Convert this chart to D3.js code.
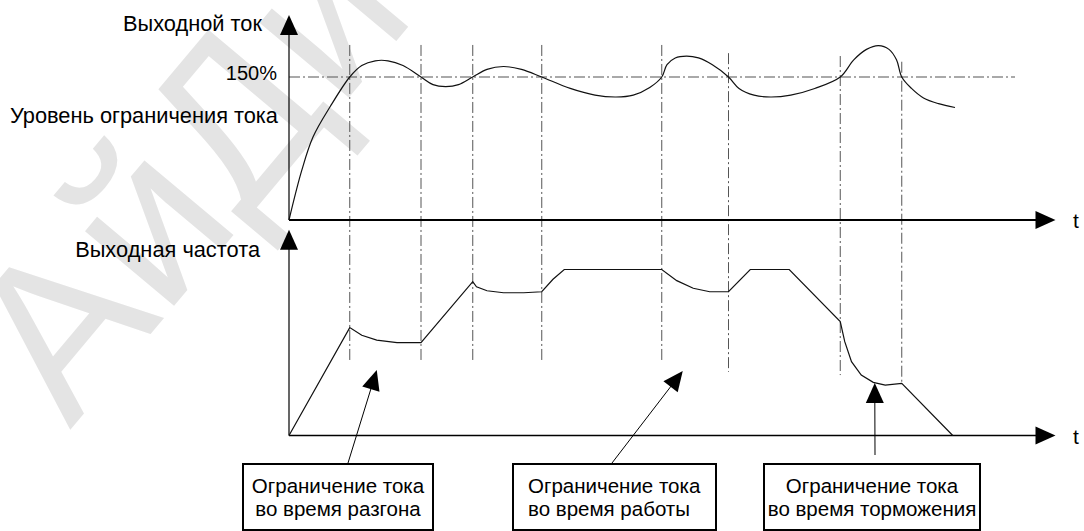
<!DOCTYPE html>
<html>
<head>
<meta charset="utf-8">
<script src="https://cdn.jsdelivr.net/npm/d3@7"></script>
<style>
  body { margin: 0; background: #fff; }
  text { font-family: Arial, "Liberation Sans", sans-serif; }
</style>
</head>
<body>
<div id="chart"></div>
<script>
// time (arbitrary units 0..100) and output current, % of rated
var currentT = [0, 1.7, 3.2, 5.5, 8.1, 9.7, 11.5, 13.2, 15.2, 17.6, 19.2, 20.9, 22.6, 24.5,
  26.4, 28.6, 31.0, 33.7, 37.5, 40.8, 43.6, 45.9, 48.1, 49.7, 50.4, 51.5, 53.0, 54.6, 56.4,
  58.6, 60.0, 62.0, 64.2, 66.9, 70.1, 73.5, 75.3, 77.0, 78.6, 80.0, 81.0, 81.7, 83.0, 84.6,
  86.6, 88.8];
var currentV = [0, 52, 87, 119, 150, 162, 167, 167, 162, 150, 142, 140, 142, 150,
  158, 161, 158, 150, 138, 131, 129, 131, 139, 150, 163, 170, 172, 170, 163,
  150, 138, 131, 129, 131, 138, 150, 168, 179, 183, 179, 168, 150, 138, 128,
  122, 118];

// output frequency, % of max
var freqT = [0, 8.1, 9.7, 11.7, 14.4, 17.6, 24.5, 25.0, 26.4, 28.6, 31.3, 33.7, 35.2, 36.7,
  49.7, 51.7, 53.9, 56.1, 58.6, 61.5, 66.7, 73.5, 74.1, 75.0, 76.3, 77.9, 79.5, 81.7, 88.5];
var freqV = [0, 65, 60.4, 57.5, 55.9, 55.9, 92.7, 89.6, 87.2, 86, 86, 86.6, 94.1, 100,
  100, 93.3, 88.7, 86.6, 86.6, 100, 100, 68.6, 56.5, 44.5, 36.4, 32, 30.4, 31.4, 0];

var limitLevel = 150;
var limitLabel = "150%";

// moments when current crosses the limit level
var markT = [8.1, 17.6, 24.5, 33.7, 49.7, 58.6, 73.5, 81.7];
var markTop = [183.6, 183.6, 183.6, 183.6, 183.6, 175, 172, 166];
var markBottom = [43.7, 43.7, 43.7, 43.7, 43.7, 38.3, 36.4, 31.6];

var boxLines = [
  ["Ограничение тока", "во время разгона"],
  ["Ограничение тока", "во время работы"],
  ["Ограничение тока", "во время торможения"]
];
// where each callout arrow points on the frequency curve
var calloutT = [11.7, 52.5, 78.1];
var calloutF = [39.5, 38.9, 31.6];

var W = 1084, H = 531;
var x = d3.scaleLinear().domain([0, 100]).range([289, 1039]);
var yI = d3.scaleLinear().domain([0, 150]).range([220, 77]);
var yF = d3.scaleLinear().domain([0, 100]).range([435.5, 269.5]);

var svg = d3.select("#chart").append("svg")
  .attr("width", W)
  .attr("height", H);

draw_watermark(svg);
draw_marks(svg);
draw_axes(svg);
draw_curves(svg);
draw_labels(svg);
draw_callouts(svg);

function arrow_head(svg, tx, ty, angle){
  svg.append("path")
    .attr("d", "M0,0 L-20,-9 L-20,9 Z")
    .attr("transform", "translate(" + tx + "," + ty + ") rotate(" + angle + ")")
    .attr("fill", "#000");
}

function draw_watermark(svg){
  svg.append("text")
    .attr("transform", "translate(70,430) rotate(-50)")
    .style("font-size", "220px")
    .style("fill", "#e4e4e4")
    .text("АйДи");
}

function draw_marks(svg){
  svg.selectAll(".mark").data(markT).enter().append("line")
    .attr("class", "mark")
    .attr("x1", function(d){ return x(d); })
    .attr("x2", function(d){ return x(d); })
    .attr("y1", function(d, i){ return yI(markTop[i]); })
    .attr("y2", function(d, i){ return yF(markBottom[i]); })
    .attr("stroke", "#555")
    .attr("stroke-width", 1)
    .style("stroke-dasharray", "11,3,2,3");

  svg.append("line")
    .attr("x1", x(0))
    .attr("x2", x(96.8))
    .attr("y1", yI(limitLevel))
    .attr("y2", yI(limitLevel))
    .attr("stroke", "#555")
    .attr("stroke-width", 1.2)
    .style("stroke-dasharray", "11,3,2,3");
}

function draw_axes(svg){
  // current chart
  svg.append("line")
    .attr("x1", x(0)).attr("y1", yI(0))
    .attr("x2", x(0)).attr("y2", yI(215) + 18)
    .attr("stroke", "#000").attr("stroke-width", 1.2);
  arrow_head(svg, x(0), yI(215), -90);

  svg.append("line")
    .attr("x1", x(0)).attr("y1", yI(0))
    .attr("x2", x(102.2) - 18).attr("y2", yI(0))
    .attr("stroke", "#000").attr("stroke-width", 1.8);
  arrow_head(svg, x(102.2), yI(0), 0);

  // frequency chart
  svg.append("line")
    .attr("x1", x(0)).attr("y1", yF(0))
    .attr("x2", x(0)).attr("y2", yF(124) + 18)
    .attr("stroke", "#000").attr("stroke-width", 1.2);
  arrow_head(svg, x(0), yF(124), -90);

  svg.append("line")
    .attr("x1", x(0)).attr("y1", yF(0))
    .attr("x2", x(102.2) - 18).attr("y2", yF(0))
    .attr("stroke", "#000").attr("stroke-width", 1.4);
  arrow_head(svg, x(102.2), yF(0), 0);
}

function draw_curves(svg){
  var iLine = d3.line()
    .x(function(d){ return x(d[0]); })
    .y(function(d){ return yI(d[1]); })
    .curve(d3.curveCatmullRom.alpha(0.5));
  svg.append("path")
    .datum(d3.zip(currentT, currentV))
    .attr("d", iLine)
    .attr("fill", "none")
    .attr("stroke", "#111")
    .attr("stroke-width", 1.2);

  var fLine = d3.line()
    .x(function(d){ return x(d[0]); })
    .y(function(d){ return yF(d[1]); });
  svg.append("path")
    .datum(d3.zip(freqT, freqV))
    .attr("d", fLine)
    .attr("fill", "none")
    .attr("stroke", "#111")
    .attr("stroke-width", 1.2);
}

function draw_labels(svg){
  var fs = "21.8px";
  svg.append("text")
    .attr("x", 262).attr("y", 31)
    .attr("text-anchor", "end")
    .style("font-size", fs)
    .text("Выходной ток");

  svg.append("text")
    .attr("x", 277).attr("y", yI(limitLevel) + 3)
    .attr("text-anchor", "end")
    .style("font-size", "20px")
    .text(limitLabel);

  svg.append("text")
    .attr("x", 278).attr("y", 123)
    .attr("text-anchor", "end")
    .style("font-size", fs)
    .text("Уровень ограничения тока");

  svg.append("text")
    .attr("x", 260).attr("y", 257)
    .attr("text-anchor", "end")
    .style("font-size", fs)
    .text("Выходная частота");

  svg.append("text")
    .attr("x", 1073).attr("y", yI(0) + 8)
    .style("font-size", "21px")
    .text("t");
  svg.append("text")
    .attr("x", 1073).attr("y", yF(0) + 8)
    .style("font-size", "21px")
    .text("t");
}

function draw_callouts(svg){
  var boxes = [
    {x: 243, w: 190, tail: [348, 463], align: "middle"},
    {x: 513, w: 203, tail: [612, 463], align: "start"},
    {x: 764, w: 216, tail: [875, 455], align: "middle"}
  ];

  boxes.forEach(function(b, i){
    var tx = x(calloutT[i]), ty = yF(calloutF[i]);
    var ang = Math.atan2(ty - b.tail[1], tx - b.tail[0]) * 180 / Math.PI;
    var len = Math.hypot(tx - b.tail[0], ty - b.tail[1]);
    var k = (len - 18) / len;
    svg.append("line")
      .attr("x1", b.tail[0]).attr("y1", b.tail[1])
      .attr("x2", b.tail[0] + (tx - b.tail[0]) * k)
      .attr("y2", b.tail[1] + (ty - b.tail[1]) * k)
      .attr("stroke", "#000").attr("stroke-width", 1);
    arrow_head(svg, tx, ty, ang);

    svg.append("rect")
      .attr("x", b.x).attr("y", 464)
      .attr("width", b.w).attr("height", 66)
      .attr("fill", "#fff")
      .attr("stroke", "#000")
      .attr("stroke-width", 2);

    boxLines[i].forEach(function(s, j){
      svg.append("text")
        .attr("x", b.align == "start" ? b.x + 15 : b.x + b.w / 2)
        .attr("y", 493 + j * 23)
        .attr("text-anchor", b.align)
        .style("font-size", "20.5px")
        .text(s);
    });
  });
}
</script>
</body>
</html>
